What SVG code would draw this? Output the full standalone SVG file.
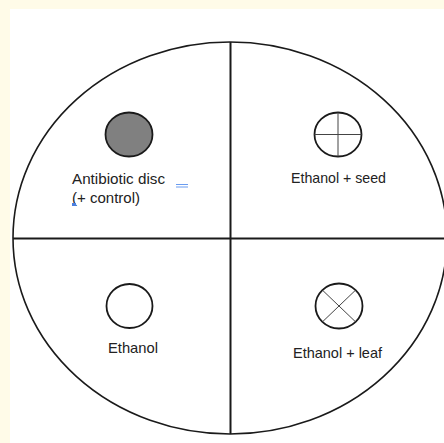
<svg xmlns="http://www.w3.org/2000/svg" width="444" height="443" viewBox="0 0 444 443">
<style>
.ln{stroke:#1a1a1a;fill:none}
.lbl{font-family:"Liberation Sans",Arial,sans-serif;font-size:14.5px;fill:#222}
.disc{stroke:#1a1a1a;stroke-width:1.8}
.thin{stroke:#444;stroke-width:1}
</style>
<rect x="0" y="0" width="444" height="443" fill="#fffbe8"/>
<rect x="10" y="9" width="434" height="434" fill="#ffffff"/>
<g id="plate">
<ellipse cx="230" cy="238" rx="217" ry="196" class="ln" stroke-width="1.6"/>
</g>
<g id="dividers">
<line x1="230.5" y1="42" x2="230.5" y2="434" class="ln" stroke-width="2"/>
<line x1="13" y1="238.5" x2="444" y2="238.5" class="ln" stroke-width="2"/>
</g>
<g id="antibiotic">
<ellipse cx="129" cy="134.5" rx="23.5" ry="22" fill="#808080" class="disc"/>
<text class="lbl" x="72" y="184" textLength="93" lengthAdjust="spacingAndGlyphs">Antibiotic disc</text>
<text class="lbl" x="72" y="203" textLength="68" lengthAdjust="spacingAndGlyphs">(+ control)</text>
<line x1="176" y1="184.5" x2="188" y2="184.5" stroke="#6a9cf0" stroke-width="1"/>
<line x1="176" y1="187" x2="188" y2="187" stroke="#6a9cf0" stroke-width="1"/>
<rect x="72" y="203" width="4" height="3" fill="#4a7fe0"/>
</g>
<g id="seed">
<ellipse cx="338" cy="134.5" rx="23.5" ry="22" fill="#fff" class="disc"/>
<line x1="338" y1="112.5" x2="338" y2="156.5" class="thin"/>
<line x1="314.5" y1="134.5" x2="361.5" y2="134.5" class="thin"/>
<text class="lbl" x="291" y="183" textLength="95" lengthAdjust="spacingAndGlyphs">Ethanol + seed</text>
</g>
<g id="ethanol">
<ellipse cx="129.5" cy="306" rx="23" ry="22" fill="#fff" class="disc"/>
<text class="lbl" x="108" y="353" textLength="50" lengthAdjust="spacingAndGlyphs">Ethanol</text>
</g>
<g id="leaf">
<ellipse cx="339" cy="306" rx="23.5" ry="22.5" fill="#fff" class="disc"/>
<line x1="322.4" y1="290.1" x2="355.6" y2="321.9" class="thin"/>
<line x1="355.6" y1="290.1" x2="322.4" y2="321.9" class="thin"/>
<text class="lbl" x="293" y="358" textLength="89" lengthAdjust="spacingAndGlyphs">Ethanol + leaf</text>
</g>
</svg>
